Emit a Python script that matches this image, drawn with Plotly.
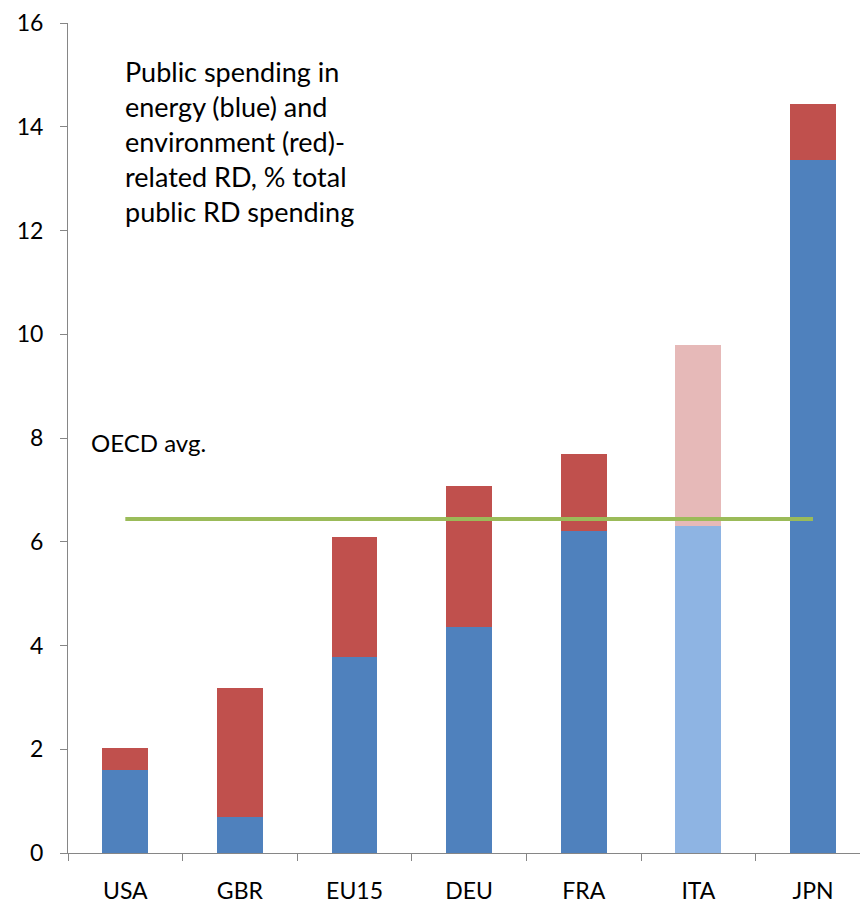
import plotly.graph_objects as go

countries = ["USA", "GBR", "EU15", "DEU", "FRA", "ITA", "JPN"]
energy = [1.6, 0.69, 3.78, 4.36, 6.2, 6.31, 13.35]
environment = [0.42, 2.49, 2.32, 2.72, 1.5, 3.49, 1.08]
oecd_avg = 6.44
y_ticks = [0, 2, 4, 6, 8, 10, 12, 14, 16]

blue = ["#4F81BD"] * 7
red = ["#C0504D"] * 7
blue[5] = "#8EB4E3"
red[5] = "#E6B9B8"

font_family = "Lato, 'Open Sans', sans-serif"

fig = go.Figure()
fig.add_trace(go.Bar(x=countries, y=energy, marker=dict(color=blue, line=dict(width=0)),
                     name="Energy"))
fig.add_trace(go.Bar(x=countries, y=environment, marker=dict(color=red, line=dict(width=0)),
                     name="Environment"))
fig.add_trace(go.Scatter(x=countries, y=[oecd_avg] * len(countries), mode="lines",
                         line=dict(color="#9BBB59", width=4), name="OECD avg."))

fig.update_layout(
    width=860, height=905,
    barmode="stack", bargap=0.6,
    showlegend=False,
    plot_bgcolor="white", paper_bgcolor="white",
    margin=dict(l=68, r=0, t=23, b=52),
    font=dict(family=font_family, size=23, color="black"),
    xaxis=dict(range=[-0.5, 6.41], showline=True, linecolor="#868686", linewidth=1,
               ticks="outside", tickson="boundaries", ticklen=7, tickcolor="#868686",
               showgrid=False, tickfont=dict(size=23), ticklabelstandoff=17,
               automargin=False),
    yaxis=dict(range=[0, 16], tickvals=y_ticks, showline=True, linecolor="#868686",
               linewidth=1, ticks="outside", ticklen=7, tickcolor="#868686",
               showgrid=False, zeroline=False, tickfont=dict(size=23),
               ticklabelstandoff=12, automargin=False),
    annotations=[
        dict(x=0.069, xref="paper", y=13.72, yref="y", xanchor="left", yanchor="middle",
             align="left", showarrow=False,
             text="Public spending in<br>energy (blue) and<br>environment (red)-<br>"
                  "related RD, % total<br>public RD spending",
             font=dict(size=27, family=font_family)),
        dict(x=0.027, xref="paper", y=7.91, yref="y", xanchor="left", yanchor="middle",
             showarrow=False, text="OECD avg.", font=dict(size=24, family=font_family)),
    ],
)

fig.write_html("out.html")
